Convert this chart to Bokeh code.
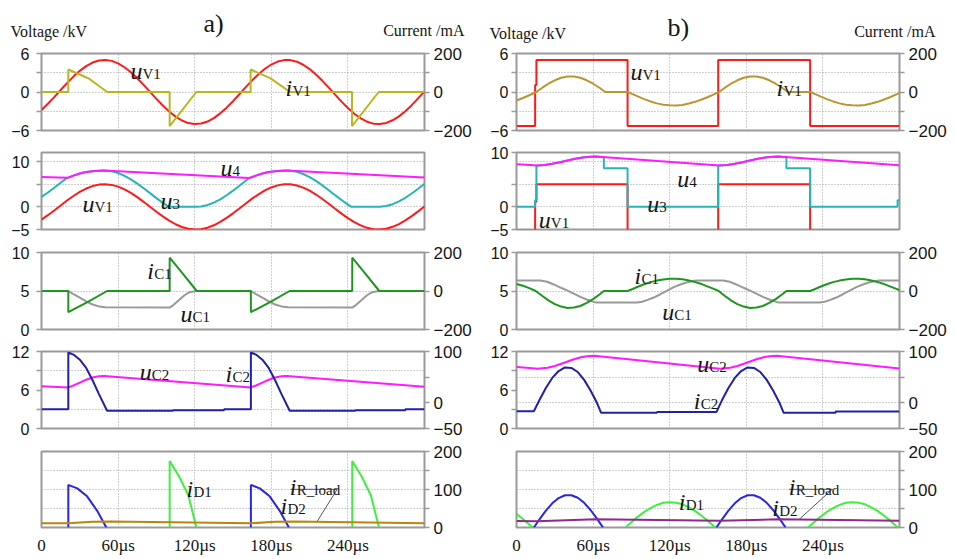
from bokeh.plotting import figure
from bokeh.models import Range1d, LinearAxis, FixedTicker, Grid
from bokeh.layouts import column, row
from bokeh.embed import file_html
from bokeh.resources import INLINE
from bokeh.core.properties import value

NaN = float("nan")
SERIF = "Liberation Serif"
SANS = "Liberation Sans"

# ---------------- data : column a) ----------------
t_uv1_a = list(range(0, 301, 5))
uv1_a = [-2.81, -1.84, -0.79, 0.31, 1.39, 2.40, 3.30, 4.04, 4.59, 4.91, 5.00, 4.85, 4.46, 3.86, 3.08,
         2.14, 1.11, 0.03, -1.07, -2.11, -3.04, -3.84, -4.44, -4.84, -5.00, -4.92, -4.60, -4.07, -3.33,
         -2.44, -1.43, -0.35, 0.75, 1.81, 2.77, 3.62, 4.28, 4.74, 4.97, 4.97, 4.72, 4.25, 3.57, 2.72,
         1.74, 0.68, -0.42, -1.50, -2.50, -3.38, -4.10, -4.63, -4.93, -4.99, -4.82, -4.41, -3.80, -3.00,
         -2.05, -1.00, 0.09]

t_iv1_a = [0, 21, 21, 37, 51.5, 100.4, 100.4, 121.3, 163.8, 163.8, 179.5, 194.6, 243.2, 243.2, 264.1, 300]
iv1_a = [0, 0, 117, 70, 0, 0, -177, 0, 0, 117, 71, 0, 0, -177, 0, 0]

t_u3_a = [0, 5, 10, 15, 20, 21, 25, 30, 35, 40, 45, 49, 55, 60, 65, 70, 75, 80, 85, 90, 95, 99.8, 121,
          125, 130, 135, 140, 145, 150, 155, 160, 162.5, 164, 168, 173, 178, 183, 188, 192, 195, 200,
          205, 210, 215, 220, 225, 230, 235, 240, 242.8, 264, 265, 270, 275, 280, 285, 290, 295, 300]
u3_a = [2.19, 3.16, 4.21, 5.31, 6.39, 6.45, 6.9, 7.35, 7.7, 7.88, 7.98, 8.0, 7.85, 7.46, 6.86, 6.08,
        5.14, 4.11, 3.03, 1.93, 0.89, 0.0, 0.0, 0.08, 0.40, 0.93, 1.67, 2.56, 3.57, 4.65, 5.75, 6.35,
        6.45, 6.9, 7.35, 7.7, 7.88, 7.98, 8.0, 7.97, 7.72, 7.25, 6.57, 5.72, 4.74, 3.68, 2.58, 1.50,
        0.50, 0.0, 0.0, 0.01, 0.18, 0.59, 1.20, 2.00, 2.95, 4.00, 5.09]

t_u4_a = [0, 20.5, 25, 30, 35, 40, 45, 49, 162.5, 168, 173, 178, 183, 188, 192, 300]
u4_a = [6.6, 6.42, 6.9, 7.35, 7.7, 7.88, 7.98, 8.0, 6.38, 6.9, 7.35, 7.7, 7.88, 7.98, 8.0, 6.48]

t_ic1_a = [0, 21, 21, 36, 51.4, 100.4, 100.4, 110, 121.6, 164, 164, 179, 194.4, 243.4, 243.4, 253, 264.6, 300]
ic1_a = [0, 0, -110, -58, 0, 0, 173, 96, 0, 0, -110, -58, 0, 0, 173, 96, 0, 0]

t_uc1_a = [0, 21, 25, 30, 35, 40, 45, 50, 100.4, 103.5, 108, 112, 116, 121.5, 164, 168, 173, 178,
           183, 188, 193, 243.4, 246.5, 251, 255, 259, 264.5, 300]
uc1_a = [5.0, 5.0, 4.6, 4.15, 3.65, 3.25, 3.0, 2.9, 2.85, 3.2, 3.85, 4.45, 4.85, 5.0, 5.0, 4.6, 4.15,
         3.65, 3.25, 3.0, 2.9, 2.85, 3.2, 3.85, 4.45, 4.85, 5.0, 5.0]

t_uc2_a = [0, 21, 25, 30, 35, 40, 45, 49, 164, 168, 173, 178, 183, 188, 192, 300]
uc2_a = [6.6, 6.4, 6.7, 7.15, 7.6, 7.95, 8.15, 8.2, 6.4, 6.7, 7.15, 7.6, 7.95, 8.15, 8.2, 6.5]

t_ic2_a = [0, 21, 21, 25, 30, 35, 40, 45, 51.4, 103, 103, 143, 143, 164, 164, 168, 173, 178, 183,
           188, 194.4, 246, 246, 285, 285, 300]
ic2_a = [-12.5, -12.5, 98, 94, 84, 68, 44, 17, -15.5, -15.5, -14.5, -14.5, -12.5, -12.5, 98, 94, 84,
         68, 44, 17, -15.5, -15.5, -14.5, -14.5, -12.5, -12.5]

t_id1_a = [100.4, 100.4, 108, 115, 121.3, NaN, 243.4, 243.4, 251, 258, 264.3]
id1_a = [0, 175, 133, 85, 0, NaN, 0, 175, 133, 85, 0]

t_id2_a = [21, 21, 28, 35.7, 43.5, 50.8, NaN, 164, 164, 171, 178.7, 186.5, 193.8]
id2_a = [0, 112, 103, 82, 44.5, 0, NaN, 0, 112, 103, 82, 44.5, 0]

t_ir_a = [0, 21, 40, 55, 164, 183, 198, 300]
ir_a = [11, 11, 15, 16, 11, 15, 16, 11.5]

# ---------------- data : column b) ----------------
t_uv1_b = [0, 14.6, 14.6, 15.6, 15.6, 87, 87, 158, 158, 230, 230, 300]
uv1_b = [-5.3, -5.3, 1.1, 1.1, 5, 5, -5.3, -5.3, 5, 5, -5.3, -5.3]

t_iv1_b = [0, 5, 10, 15.5, 20, 25, 30, 35, 40, 45, 50, 55, 60, 65, 69.6, 87.4, 90, 95, 100, 105, 110,
           115, 120, 125, 130, 135, 140, 145, 150, 155, 158.5, 163, 168, 173, 178, 183, 188, 193, 198,
           203, 208, 212.6, 230.4, 233, 238, 243, 248, 253, 258, 263, 268, 273, 278, 283, 288, 293,
           298, 300]
iv1_b = [-44, -31, -17, 0, 21, 43, 61, 74, 81, 81, 74, 61, 43, 22, 0, 0, -8, -23, -37, -49, -59, -66,
         -69, -70, -67, -60, -51, -39, -26, -11, 0, 21, 43, 61, 74, 81, 81, 74, 61, 43, 22, 0, 0, -8,
         -23, -37, -49, -59, -66, -69, -70, -67, -60, -51, -39, -26, -11, -5]

t_u3_b = [0, 14.6, 14.6, 15.6, 15.6, 22, 28, 34, 40, 46, 52, 58, 62, 68.4, 68.4, 87, 87, 158, 158,
          165, 171, 177, 183, 189, 195, 201, 205, 211.4, 211.4, 230, 230, 298.5, 298.5, 300]
u3_b = [0, 0, 1.45, 1.45, 9.1, 9.25, 9.5, 9.85, 10.25, 10.6, 10.9, 11.05, 11.1, 10.97, 8.55, 8.55, 0,
        0, 9.15, 9.25, 9.5, 9.85, 10.25, 10.6, 10.9, 11.05, 11.1, 10.97, 8.55, 8.55, 0, 0, 1.45, 1.45]

t_u4_b = [0, 8, 16, 22, 28, 34, 40, 46, 52, 58, 62, 159, 165, 171, 177, 183, 189, 195, 201, 205, 300]
u4_b = [9.4, 9.28, 9.15, 9.25, 9.5, 9.85, 10.25, 10.6, 10.9, 11.05, 11.1, 9.15, 9.25, 9.5, 9.85,
        10.25, 10.6, 10.9, 11.05, 11.1, 9.2]

t_ic1_b = [0, 5, 10, 15, 20, 25, 30, 35, 40, 45, 50, 55, 60, 65, 68.4, 87, 90, 95, 100, 105, 110, 115,
           120, 125, 130, 135, 140, 145, 150, 155, 158.4, 163, 168, 173, 178, 183, 188, 193, 198, 203,
           208, 211.4, 230, 233, 238, 243, 248, 253, 258, 263, 268, 273, 278, 283, 288, 293, 298, 300]
ic1_b = [36, 27, 15, 0, -25, -49, -68, -81, -88, -86, -78, -62, -42, -18, 0, 0, 8, 22, 35, 46, 54, 60,
         64, 64, 61, 55, 46, 36, 23, 10, 0, -25, -49, -68, -81, -88, -86, -78, -62, -42, -18, 0, 0, 8,
         22, 35, 46, 54, 60, 64, 64, 61, 55, 46, 36, 23, 10, 4]

t_uc1_b = [0, 18.8, 24, 29.2, 34.4, 39.6, 44.8, 50, 55, 61.8, 94.5, 98.4, 102.3, 107.5, 112.7, 118,
           123.2, 128.4, 133.6, 138, 141.4, 161.8, 167, 172.2, 177.4, 182.6, 187.8, 193, 198, 204.8,
           237.5, 241.4, 245.3, 250.5, 255.7, 261, 266.2, 271.4, 276.6, 281, 284.4, 300]
uc1_b = [6.36, 6.36, 6.2, 5.85, 5.45, 5.08, 4.65, 4.24, 3.9, 3.52, 3.52, 3.6, 3.81, 4.15, 4.58, 5.05,
         5.5, 5.85, 6.14, 6.3, 6.36, 6.36, 6.2, 5.85, 5.45, 5.08, 4.65, 4.24, 3.9, 3.52, 3.52, 3.6,
         3.81, 4.15, 4.58, 5.05, 5.5, 5.85, 6.14, 6.3, 6.36, 6.36]

t_uc2_b = [0, 8, 16.4, 24.3, 30, 35, 40, 45, 50.4, 55, 60.9, 159.5, 167.4, 173, 178, 183, 188, 193.4,
           198, 203.9, 300]
uc2_b = [9.57, 9.45, 9.31, 9.47, 9.75, 10.1, 10.45, 10.8, 11.1, 11.25, 11.33, 9.31, 9.47, 9.75, 10.1,
         10.45, 10.8, 11.1, 11.25, 11.33, 9.35]

t_ic2_b = [0, 13.6, 18, 23, 28, 33, 38, 43, 48, 53, 58, 63, 66.3, 110, 110, 156.6, 161, 166, 171, 176,
           181, 186, 191, 196, 201, 206, 209.3, 250, 250, 300]
ic2_b = [-16.4, -16.4, 5.4, 29, 48.5, 62, 69, 68, 60, 44.7, 24, 0, -19.5, -19.5, -18, -18, 5.4, 29,
         48.5, 62, 69, 68, 60, 44.7, 24, 0, -19.5, -19.5, -17, -17]

t_id1_b = [0, 5, 10, 12.7, NaN, 85.3, 90, 95, 100, 105, 110, 115, 120, 125, 130, 135, 140, 145, 150,
           155.7, NaN, 228.3, 233, 238, 243, 248, 253, 258, 263, 268, 273, 278, 283, 288, 293, 298.7]
id1_b = [35.8, 22.5, 8, 0, NaN, 0, 14, 28, 41, 51, 59.5, 65, 66.7, 65, 61, 53, 43, 31, 17, 0, NaN, 0,
         14, 28, 41, 51, 59.5, 65, 66.7, 65, 61, 53, 43, 31, 17, 0]

t_id2_b = [13.6, 18, 23, 28, 33, 38, 43, 48, 53, 58, 63, 67.8, NaN, 156.6, 161, 166, 171, 176, 181,
           186, 191, 196, 201, 206, 210.8]
id2_b = [0, 21.6, 44.5, 63.6, 77.4, 84.8, 85, 78.2, 64.9, 46.1, 23.5, 0, NaN, 0, 21.6, 44.5, 63.6,
         77.4, 84.8, 85, 78.2, 64.9, 46.1, 23.5, 0]

t_ir_b = [0, 16, 62, 159, 205, 300]
ir_b = [17, 16.5, 21.5, 17.5, 21.5, 18]

# ticks
time_ticks = [0, 60, 120, 180, 240]
time_labels = {0: "0", 60: "60\u00b5s", 120: "120\u00b5s", 180: "180\u00b5s", 240: "240\u00b5s"}

# ---------------- style ----------------
INK = "#151515"
FRAME = "#9a9a9a"
GRIDC = "#a0a0a0"
RED = "#ff1a1a"
OLIVE = "#b8b81e"
GOLD = "#bb9630"
MAGENTA = "#ff1aff"
CYAN = "#26b5b5"
GREEN = "#1e961e"
GRAY = "#999999"
NAVY = "#2020a8"
LGREEN = "#3cf03c"
BLUE = "#2626e6"
BROWN = "#b8860b"
PURPLE = "#8e2a8e"

ROW_H = [99, 100, 99, 100, 115]
ROW_B = [13, 14, 13, 14, 29]
COL_W = [480, 474]
COL_L = [41, 36]
COL_R = [56, 55]


def style_axis(ax, size, standoff, tick_out=5):
    ax.axis_line_color = None
    ax.major_tick_line_color = FRAME
    ax.major_tick_line_width = 1.5
    ax.major_tick_in = 0
    ax.major_tick_out = tick_out
    ax.minor_tick_line_color = None
    ax.major_label_text_font = SANS
    ax.major_label_text_font_size = size
    ax.major_label_text_color = INK
    ax.major_label_standoff = standoff


def panel(col, r, yr, ygrid, left=None, right=None, right_range=None, time_axis=False):
    p = figure(width=COL_W[col], height=ROW_H[r], x_range=Range1d(0, 300), y_range=Range1d(*yr),
               x_axis_location=None, y_axis_location=None, toolbar_location=None,
               output_backend="svg",
               min_border_left=COL_L[col], min_border_right=COL_R[col],
               min_border_top=9, min_border_bottom=ROW_B[r])
    p.outline_line_color = FRAME
    p.outline_line_width = 2
    p.background_fill_color = "white"
    p.border_fill_color = "white"
    p.center = [c for c in p.center if not isinstance(c, Grid)]
    for dim, ticks in ((0, [60, 120, 180, 240]), (1, ygrid)):
        g = Grid(dimension=dim, ticker=FixedTicker(ticks=ticks))
        g.grid_line_color = GRIDC
        g.grid_line_width = 1
        g.grid_line_dash = "1 2"
        p.add_layout(g, "center")
    if left is not None:
        ticks, over = left
        ax = LinearAxis(ticker=FixedTicker(ticks=ticks), major_label_overrides=over)
        style_axis(ax, "16px", 7 if col == 0 else 3)
        p.add_layout(ax, "left")
    if right is not None:
        ticks, over = right
        kw = {}
        if right_range is not None:
            p.extra_y_ranges = {"r": Range1d(*right_range)}
            kw["y_range_name"] = "r"
        ax = LinearAxis(ticker=FixedTicker(ticks=ticks), major_label_overrides=over, **kw)
        style_axis(ax, "17px", 4)
        p.add_layout(ax, "right")
    if time_axis:
        ax = LinearAxis(ticker=FixedTicker(ticks=time_ticks), major_label_overrides=time_labels)
        style_axis(ax, "17px", 8, tick_out=0)
        ax.major_label_text_font = SERIF
        p.add_layout(ax, "below")
    return p


def curve(p, t, v, color, rng=None):
    kw = {"y_range_name": "r"} if rng else {}
    p.line(t, v, line_color=color, line_width=2, **kw)


def labels(p, items):
    for x, y, main, sub in items:
        off = 12 if main == "u" else 7
        p.text(x=[x], y=[y], text=[main], text_font=value(SERIF), text_font_style="italic",
               text_font_size="24px", text_color=INK, text_baseline="alphabetic", text_align="left")
        p.text(x=[x], y=[y], text=[sub], x_offset=off, y_offset=3, text_font=value(SERIF),
               text_font_size="15px", text_color=INK, text_baseline="alphabetic", text_align="left")


figs = [[None] * 5, [None] * 5]
for c in (0, 1):
    # panel 1
    p = panel(c, 0, (-6, 6), [-3, 0, 3],
              left=([-6, -3, 0, 3, 6], {-3: "", 3: ""}),
              right=([-200, -100, 0, 100, 200], {-100: "", 100: ""}), right_range=(-200, 200))
    if c == 0:
        curve(p, t_uv1_a, uv1_a, RED)
        curve(p, t_iv1_a, iv1_a, OLIVE, "r")
        labels(p, [(69.7, 3.35, "u", "V1"), (191.1, 0.70, "i", "V1")])
    else:
        curve(p, t_uv1_b, uv1_b, RED)
        curve(p, t_iv1_b, iv1_b, GOLD, "r")
        labels(p, [(89.3, 3.04, "u", "V1"), (203.6, 0.70, "i", "V1")])
    figs[c][0] = p

    # panel 2
    if c == 0:
        p = panel(c, 1, (-5, 12), [0, 5, 10], left=([-5, 0, 5, 10], {5: ""}))
        curve(p, t_uv1_a, uv1_a, RED)
        curve(p, t_u3_a, u3_a, CYAN)
        curve(p, t_u4_a, u4_a, MAGENTA)
        labels(p, [(140.2, 8.47, "u", "4"), (93.2, 1.40, "u", "3"), (32.1, 0.67, "u", "V1")])
    else:
        p = panel(c, 1, (-5, 12), [0, 5, 10], left=([-5, 0, 5, 12], {5: "", 12: "10"}))
        curve(p, t_uv1_b, uv1_b, RED)
        curve(p, t_u3_b, u3_b, CYAN)
        curve(p, t_u4_b, u4_b, MAGENTA)
        labels(p, [(125.9, 6.19, "u", "4"), (102.4, 0.52, "u", "3"), (17.5, -2.8, "u", "V1")])
    figs[c][1] = p

    # panel 3
    p = panel(c, 2, (0, 10), [5], left=([0, 5, 10], {}),
              right=([-200, 0, 200], {}), right_range=(-200, 200))
    if c == 0:
        curve(p, t_uc1_a, uc1_a, GRAY)
        curve(p, t_ic1_a, ic1_a, GREEN, "r")
        labels(p, [(82.8, 7.66, "i", "C1"), (108.9, 2.04, "u", "C1")])
    else:
        curve(p, t_uc1_b, uc1_b, GRAY)
        curve(p, t_ic1_b, ic1_b, GREEN, "r")
        labels(p, [(92.4, 7.01, "i", "C1"), (114.1, 2.25, "u", "C1")])
    figs[c][2] = p

    # panel 4
    p = panel(c, 3, (0, 12), [3, 9] if c == 0 else [4, 8],
              left=([0, 3, 6, 9, 12], {3: "", 9: ""}),
              right=([-50, 0, 50, 100], {50: ""}), right_range=(-50, 100))
    if c == 0:
        curve(p, t_uc2_a, uc2_a, MAGENTA)
        curve(p, t_ic2_a, ic2_a, NAVY, "r")
        labels(p, [(77.0, 8.77, "u", "C2"), (144.1, 8.52, "i", "C2")])
    else:
        curve(p, t_uc2_b, uc2_b, MAGENTA)
        curve(p, t_ic2_b, ic2_b, NAVY, "r")
        labels(p, [(141.5, 10.08, "u", "C2"), (138.9, 4.36, "i", "C2")])
    figs[c][3] = p

    # panel 5
    p = panel(c, 4, (0, 200), [50, 100, 150],
              right=([0, 50, 100, 150, 200], {50: "", 150: ""}), time_axis=True)
    if c == 0:
        curve(p, t_id1_a, id1_a, LGREEN)
        curve(p, t_id2_a, id2_a, BLUE)
        curve(p, t_ir_a, ir_a, BROWN)
        p.line([195.0, 231.6, 216.0], [100.5, 100.5, 16.4], line_color="#555555", line_width=1)
        labels(p, [(113.6, 100.5, "i", "D1"), (187.2, 55.4, "i", "D2"), (194.5, 107.3, "i", "R_load")])
    else:
        curve(p, t_id1_b, id1_b, LGREEN)
        curve(p, t_id2_b, id2_b, BLUE)
        curve(p, t_ir_b, ir_b, PURPLE)
        p.line([213.3, 247.3, 221.2], [100.5, 100.5, 20.8], line_color="#555555", line_width=1)
        labels(p, [(127.1, 68.3, "i", "D1"), (200.3, 51.2, "i", "D2"), (213.3, 107.3, "i", "R_load")])
    figs[c][4] = p

# ---------------- header ----------------
HEAD_H = 44
h = figure(width=sum(COL_W), height=HEAD_H, x_range=Range1d(0, sum(COL_W)), y_range=Range1d(0, HEAD_H),
           x_axis_location=None, y_axis_location=None, toolbar_location=None,
           output_backend="svg", min_border=0)
h.outline_line_color = None
h.center = [c for c in h.center if not isinstance(c, Grid)]
h.text(x=[10, 489], y=[13, 11], text=["Voltage /kV", "Voltage /kV"], text_font=value(SERIF),
       text_font_size="16px", text_color=INK, text_baseline="alphabetic", text_align="left")
h.text(x=[464, 935], y=[14, 13], text=["Current /mA", "Current /mA"], text_font=value(SERIF),
       text_font_size="16px", text_color=INK, text_baseline="alphabetic", text_align="right")
h.text(x=[203, 667], y=[21, 17], text=["a)", "b)"], text_font=value(SERIF),
       text_font_size="26px", text_color=INK, text_baseline="alphabetic", text_align="left")

layout = column(h, *[row(figs[0][i], figs[1][i]) for i in range(5)])

open("out.html", "w").write(file_html(layout, INLINE))
